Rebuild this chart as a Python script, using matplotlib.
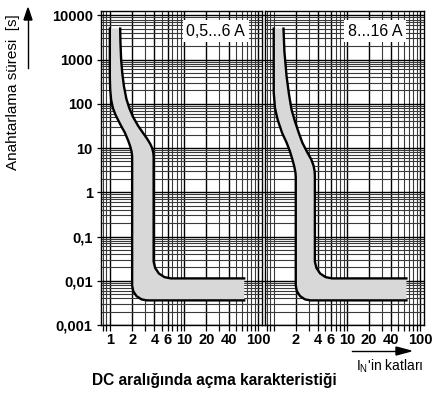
import numpy as np
import matplotlib.pyplot as plt
from matplotlib.ticker import FixedLocator, LogLocator, NullFormatter

plt.rcParams['font.family'] = ['Liberation Sans', 'DejaVu Sans']

# eğriler: alt sınır (lo) ve üst sınır (hi), x = I/IN, t = saniye
# panel A: 0,5...6 A
lo_x_a = [1.0, 1.0, 1.01, 1.04, 1.1, 1.2, 1.4, 1.6, 1.76, 1.88, 1.96, 2.0, 2.0,
          2.0, 2.07, 2.29, 2.67, 3.16, 65]
lo_t_a = [5000, 400, 220, 124, 80, 55, 33, 22, 15, 11, 8.5, 6.5, 5,
          0.0078, 0.0058, 0.0045, 0.0038, 0.0036, 0.0036]
hi_x_a = [1.38, 1.39, 1.42, 1.47, 1.55, 1.67, 1.83, 2.05, 2.4, 2.8, 3.2, 3.5, 3.72, 3.85, 3.9,
          3.9, 4.09, 4.59, 5.45, 6.67, 65]
hi_t_a = [5000, 2500, 1000, 500, 250, 130, 80, 51, 32, 22, 16, 12.5, 10, 8, 6.5,
          0.027, 0.0195, 0.0146, 0.0121, 0.0113, 0.0113]

# panel B: 8...16 A
lo_x_b = [1.0, 1.0, 1.04, 1.13, 1.3, 1.5, 1.66, 1.8, 1.91, 1.98, 2.0,
          2.0, 2.07, 2.29, 2.67, 3.16, 65]
lo_t_b = [5000, 180, 80, 44, 22, 13.2, 8.5, 5.5, 3.8, 2.8, 2.2,
          0.0078, 0.0058, 0.0045, 0.0038, 0.0036, 0.0036]
hi_x_b = [1.36, 1.4, 1.5, 1.62, 1.75, 1.95, 2.2, 2.46, 2.85, 3.26, 3.5, 3.62, 3.65,
          3.65, 3.83, 4.3, 5.1, 6.25, 65]
hi_t_b = [5000, 1500, 410, 160, 74, 40, 22, 13.2, 8.2, 5.5, 4, 3.0, 2.4,
          0.027, 0.0195, 0.0146, 0.0121, 0.0113, 0.0113]

panel_labels = ['0,5...6 A', '8...16 A']
y_ticks = [0.001, 0.01, 0.1, 1, 10, 100, 1000, 10000]
y_ticklabels = ['0,001', '0,01', '0,1', '1', '10', '100', '1000', '10000']
x_ticks_a = [1, 2, 4, 6, 10, 20, 40, 100]
x_ticks_b = [2, 4, 6, 10, 20, 40, 100]

fig = plt.figure(figsize=(4.38, 3.96), dpi=100)
W, H = 438, 396

def make_panel(left_px, right_px, lo_x, lo_t, hi_x, hi_t, xt, label, label_right, show_y):
    top_px, bot_px = 11, 325
    ax = fig.add_axes([left_px / W, 1 - bot_px / H, (right_px - left_px) / W, (bot_px - top_px) / H])
    ax.set_xscale('log')
    ax.set_yscale('log')
    ax.set_xlim(0.76, 113)
    ax.set_ylim(0.001, 12500)
    ax.set_axisbelow(True)

    ax.xaxis.set_major_locator(FixedLocator(xt))
    ax.set_xticklabels([str(v) for v in xt], fontsize=10.5, fontweight='bold')
    ax.xaxis.set_minor_locator(LogLocator(base=10, subs=np.arange(1, 10), numticks=100))
    ax.xaxis.set_minor_formatter(NullFormatter())
    ax.yaxis.set_major_locator(FixedLocator(y_ticks))
    ax.yaxis.set_minor_locator(LogLocator(base=10, subs=np.arange(2, 10), numticks=100))
    ax.yaxis.set_minor_formatter(NullFormatter())
    if show_y:
        ax.set_yticklabels(y_ticklabels, fontsize=10.5, fontweight='bold')
    else:
        ax.set_yticklabels([])

    ax.grid(True, which='major', color='black', lw=1.0)
    ax.grid(True, which='minor', color='#3a3a3a', lw=0.8)
    ax.tick_params(axis='x', which='both', direction='out', length=4, width=0.9, pad=2)
    ax.tick_params(axis='y', which='major', direction='out', length=3, width=0.9, pad=3)
    ax.tick_params(axis='y', which='minor', length=0)
    for s in ax.spines.values():
        s.set_color('black')
        s.set_linewidth(1.0)

    ax.fill(lo_x + hi_x[::-1], lo_t + hi_t[::-1], color='#d8d8d8', lw=0, zorder=2)
    ax.plot(lo_x, lo_t, color='black', lw=1.7, zorder=3, solid_joinstyle='round')
    ax.plot(hi_x, hi_t, color='black', lw=1.7, zorder=3, solid_joinstyle='round')

    ax.text(label_right, 0.936, label, transform=ax.transAxes, ha='right', va='center',
            fontsize=11.5, zorder=4,
            bbox=dict(facecolor='white', edgecolor='none', pad=2.5))
    return ax

make_panel(101, 262, lo_x_a, lo_t_a, hi_x_a, hi_t_a, x_ticks_a, panel_labels[0], 0.895, True)
make_panel(265, 424, lo_x_b, lo_t_b, hi_x_b, hi_t_b, x_ticks_b, panel_labels[1], 0.862, False)

# eksen başlıkları ve oklar
fig.text(13 / W, 1 - 92 / H, 'Anahtarlama süresi  [s]', rotation=90, ha='center', va='center', fontsize=11)
fig.add_artist(plt.Line2D([28 / W, 28 / W], [1 - 68 / H, 1 - 18 / H], color='black', lw=1))
fig.patches.append(plt.Polygon([[24 / W, 1 - 20 / H], [32 / W, 1 - 20 / H], [28 / W, 1 - 8 / H]],
                               closed=True, color='black', transform=fig.transFigure, figure=fig))

fig.add_artist(plt.Line2D([352 / W, 398 / W], [1 - 351 / H, 1 - 351 / H], color='black', lw=1))
fig.patches.append(plt.Polygon([[396 / W, 1 - 347 / H], [396 / W, 1 - 355 / H], [411 / W, 1 - 351 / H]],
                               closed=True, color='black', transform=fig.transFigure, figure=fig))
fig.text(390 / W, 1 - 366 / H, "I$_\\mathregular{N}$'in katları", ha='center', va='center', fontsize=10)

fig.text(214 / W, 1 - 381 / H, 'DC aralığında açma karakteristiği', ha='center', va='center',
         fontsize=11.2, fontweight='bold')

fig.savefig('out.png', dpi=100)
